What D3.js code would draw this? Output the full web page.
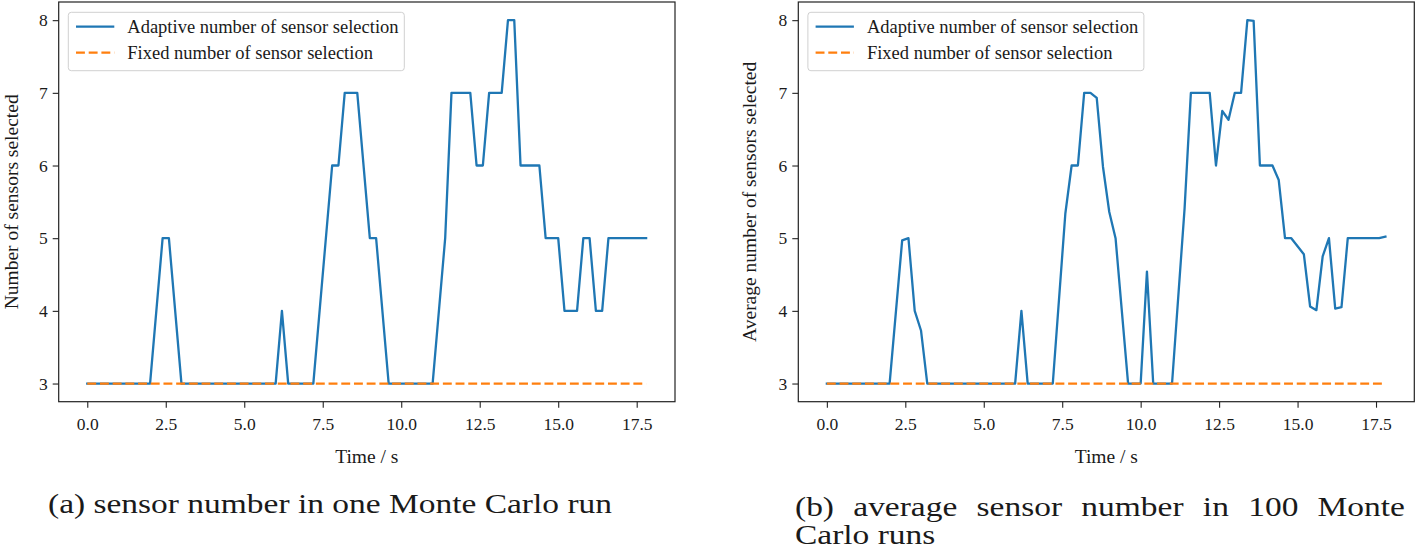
<!DOCTYPE html>
<html><head><meta charset="utf-8">
<script src="https://cdn.jsdelivr.net/npm/d3@7"></script>
<style>
body{margin:0;background:#fff;}
svg{display:block;}
text{font-family:"Liberation Serif","Times New Roman",serif;fill:#1a1a1a;}
</style></head>
<body>
<svg id="chart" width="1416" height="550"></svg>
<script>
// ---------- data ----------
const xTicks = [0, 2.5, 5, 7.5, 10, 12.5, 15, 17.5];
const yTicks = [3, 4, 5, 6, 7, 8];
const legendLabels = ["Adaptive number of sensor selection", "Fixed number of sensor selection"];

// (a) one Monte Carlo run : vertices of adaptive line
const timeA = [0, 2.0, 2.4, 2.6, 3.0, 6.0, 6.2, 6.4, 7.2, 7.8, 8.0, 8.2, 8.6, 9.0, 9.2, 9.6, 11.0, 11.4, 11.6, 12.2, 12.4, 12.6, 12.8, 13.2, 13.4, 13.6, 13.8, 14.4, 14.6, 15.0, 15.2, 15.6, 15.8, 16.0, 16.2, 16.4, 16.6, 17.8];
const adaptiveA = [3, 3, 5, 5, 3, 3, 4, 3, 3, 6, 6, 7, 7, 5, 5, 3, 3, 5, 7, 7, 6, 6, 7, 7, 8, 8, 6, 6, 5, 5, 4, 4, 5, 5, 4, 4, 5, 5];

// (b) average over 100 runs
const timeB = [0, 2.0, 2.4, 2.6, 2.8, 3.0, 3.2, 6.0, 6.2, 6.4, 7.2, 7.6, 7.8, 8.0, 8.2, 8.4, 8.6, 8.8, 9.0, 9.2, 9.6, 10.0, 10.2, 10.4, 11.0, 11.4, 11.6, 12.2, 12.4, 12.6, 12.8, 13.0, 13.2, 13.4, 13.6, 13.8, 14.2, 14.4, 14.6, 14.8, 15.0, 15.2, 15.4, 15.6, 15.8, 16.0, 16.2, 16.4, 16.6, 17.6, 17.8];
const adaptiveB = [3, 3, 4.97, 5.0, 4.0, 3.73, 3, 3, 4.0, 3, 3, 5.34, 6.0, 6.0, 7.0, 7.0, 6.93, 5.98, 5.36, 5.0, 3, 3, 4.54, 3, 3, 5.41, 7.0, 7.0, 6.0, 6.75, 6.63, 7.0, 7.0, 8.0, 7.99, 6.0, 6.0, 5.8, 5.0, 5.0, 4.89, 4.78, 4.06, 4.01, 4.75, 5.0, 4.03, 4.05, 5.0, 5.0, 5.02];

const fixedTime = [0, 17.8];
const fixedValue = [3, 3];

const yTitles = ["Number of sensors selected", "Average number of sensors selected"];
const xTitle = "Time / s";

// ---------- drawing ----------
const svg = d3.select("#chart");
const blue = "#1f77b4", orange = "#ff7f0e";

const panels = [
  {x0: 58.7, x1: 675, time: timeA, vals: adaptiveA, ytitle: yTitles[0], ytx: 17.5, legendW: 336},
  {x0: 798.3, x1: 1414.3, time: timeB, vals: adaptiveB, ytitle: yTitles[1], ytx: 755.8, legendW: 336}
];
const plotTop = 2, plotBottom = 401.7;

panels.forEach(p => {
  const x = d3.scaleLinear().domain([-0.91, 18.72]).range([p.x0, p.x1]);
  const y = d3.scaleLinear().domain([2.75, 8.25]).range([plotBottom, plotTop]);
  const g = svg.append("g");

  // axes
  const xa = g.append("g").attr("transform", `translate(0,${plotBottom})`)
    .call(d3.axisBottom(x).tickValues(xTicks).tickFormat(d3.format(".1f")).tickSize(6).tickSizeOuter(0).tickPadding(10));
  const ya = g.append("g").attr("transform", `translate(${p.x0},0)`)
    .call(d3.axisLeft(y).tickValues(yTicks).tickFormat(d3.format("d")).tickSize(6).tickSizeOuter(0).tickPadding(5));
  [xa, ya].forEach(a => {
    a.select(".domain").remove();
    a.selectAll(".tick line").attr("stroke", "#222").attr("stroke-width", 1.1);
    a.selectAll(".tick text").style("font-family", '"Liberation Serif", serif').style("font-size", "17.5px").attr("fill", "#1a1a1a");
  });

  // lines
  const line = d3.line().x(d => x(d[0])).y(d => y(d[1]));
  const fixedPts = fixedTime.map((t, i) => [t, fixedValue[i]]);
  const adPts = p.time.map((t, i) => [t, p.vals[i]]);
  g.append("path").datum(adPts).attr("d", line).attr("fill", "none")
    .attr("stroke", blue).attr("stroke-width", 2.3).attr("stroke-linejoin", "round").attr("stroke-linecap", "square");
  g.append("path").datum(fixedPts).attr("d", line).attr("fill", "none")
    .attr("stroke", orange).attr("stroke-width", 2.3).attr("stroke-dasharray", "8.9,3.8");

  // frame
  g.append("rect").attr("x", p.x0).attr("y", plotTop).attr("width", p.x1 - p.x0).attr("height", plotBottom - plotTop)
    .attr("fill", "none").attr("stroke", "#222").attr("stroke-width", 1.2);

  // legend
  const lx = p.x0 + 9.6, ly = 12.3;
  const lg = g.append("g");
  lg.append("rect").attr("x", lx).attr("y", ly).attr("width", p.legendW).attr("height", 58.4)
    .attr("rx", 3).attr("fill", "rgba(255,255,255,0.8)").attr("stroke", "#d0d0d0").attr("stroke-width", 1);
  const rows = [{c: blue, dash: null}, {c: orange, dash: "8.9,3.8"}];
  rows.forEach((r, i) => {
    const yy = ly + 14.4 + i * 26;
    lg.append("line").attr("x1", lx + 7.7).attr("x2", lx + 46).attr("y1", yy).attr("y2", yy)
      .attr("stroke", r.c).attr("stroke-width", 2.3).attr("stroke-dasharray", r.dash);
    lg.append("text").attr("x", lx + 59).attr("y", yy).attr("dy", "0.33em")
      .style("font-size", "18.5px").text(legendLabels[i]);
  });

  // axis titles
  g.append("text").attr("x", (p.x0 + p.x1) / 2).attr("y", 463).attr("text-anchor", "middle")
    .style("font-size", "19.5px").text(xTitle);
  g.append("text").attr("transform", `translate(${p.ytx},${(plotTop + plotBottom) / 2}) rotate(-90)`)
    .attr("text-anchor", "middle").style("font-size", "19.5px").text(p.ytitle);
});

// captions
const capA = "(a) sensor number in one Monte Carlo run";
const capB1 = "(b) average sensor number in 100 Monte";
const capB2 = "Carlo runs";
const cap = svg.append("g");
const capSize = 27;
const ta = cap.append("text").attr("x", 48).attr("y", 513).style("font-size", capSize + "px").text(capA);
const stretch = 564 / ta.node().getComputedTextLength();
ta.attr("textLength", 564).attr("lengthAdjust", "spacingAndGlyphs");

// justified line: words spread across the full width, glyphs widened like caption (a)
function justified(str, x0, width, yb) {
  const words = str.split(" ");
  const tmp = words.map(w => cap.append("text").style("font-size", capSize + "px").text(w));
  const widths = tmp.map(t => t.node().getComputedTextLength() * stretch);
  const gap = (width - d3.sum(widths)) / (words.length - 1);
  let cx = x0;
  tmp.forEach((t, i) => {
    t.attr("x", cx).attr("y", yb).attr("textLength", widths[i]).attr("lengthAdjust", "spacingAndGlyphs");
    cx += widths[i] + gap;
  });
}
justified(capB1, 795, 610, 516);
const tb2 = cap.append("text").attr("x", 795).attr("y", 544).style("font-size", capSize + "px").text(capB2);
tb2.attr("textLength", tb2.node().getComputedTextLength() * stretch).attr("lengthAdjust", "spacingAndGlyphs");
</script>
</body></html>
